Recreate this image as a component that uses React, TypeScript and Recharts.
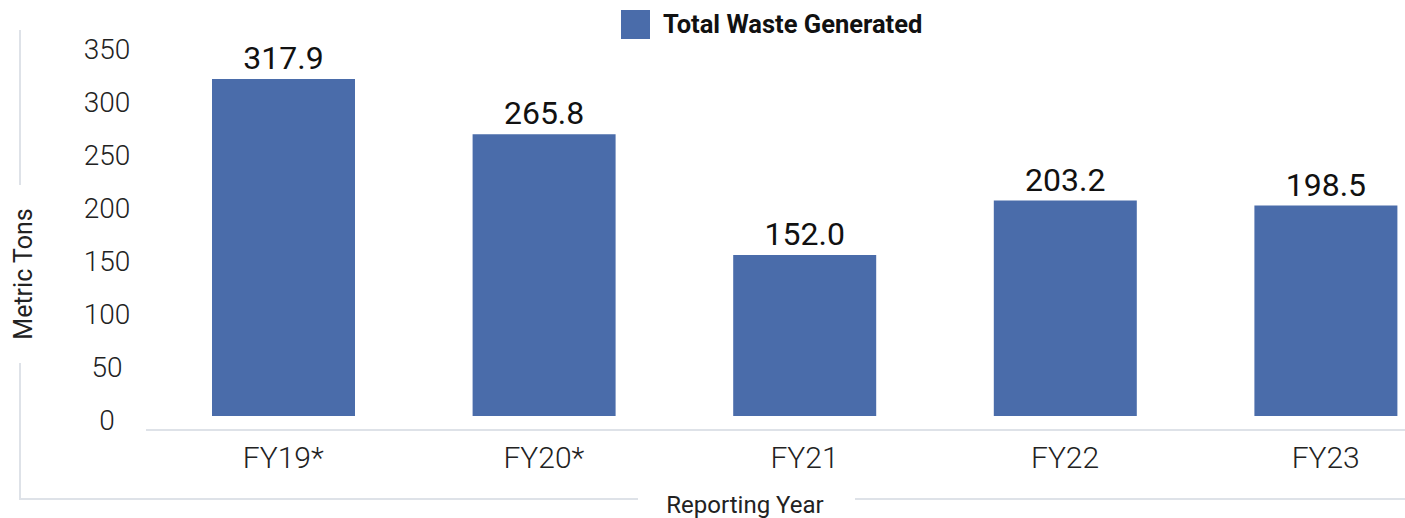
import { Bar, BarChart, LabelList, Legend, XAxis, YAxis } from "recharts";

const categories = ["FY19*", "FY20*", "FY21", "FY22", "FY23"];
const totalWaste = [317.9, 265.8, 152.0, 203.2, 198.5];
const yTicks = [0, 50, 100, 150, 200, 250, 300, 350];
const seriesName = "Total Waste Generated";
const yTitle = "Metric Tons";
const xTitle = "Reporting Year";

const data = categories.map((year, i) => ({ year, waste: totalWaste[i] }));

const FONT = "Roboto, 'Noto Sans', sans-serif";
const BAR = "#4A6CAA";
const FRAME = "#DEE2E8";

function YTick(props: any) {
  const { y, payload } = props;
  return (
    <text
      x={107}
      y={y + 4}
      dy="0.36em"
      textAnchor="middle"
      fontFamily={FONT}
      fontWeight={300}
      fontSize={28}
      fill="#222"
    >
      {payload.value}
    </text>
  );
}

function XTick(props: any) {
  const { x, y, payload } = props;
  return (
    <text
      x={x}
      y={y}
      dy={30}
      textAnchor="middle"
      fontFamily={FONT}
      fontWeight={300}
      fontSize={30}
      fill="#222"
    >
      {payload.value}
    </text>
  );
}

// axis titles sit in gaps of a light bracket frame
function YTitle() {
  return (
    <g>
      <line x1={20} y1={30} x2={20} y2={185} stroke={FRAME} strokeWidth={2} />
      <line x1={20} y1={363} x2={20} y2={500} stroke={FRAME} strokeWidth={2} />
      <text
        x={32}
        y={274}
        transform="rotate(-90, 32, 274)"
        textAnchor="middle"
        fontFamily={FONT}
        fontSize={25}
        fill="#222"
      >
        {yTitle}
      </text>
    </g>
  );
}

function XTitle() {
  return (
    <g>
      <line x1={19} y1={499} x2={638} y2={499} stroke={FRAME} strokeWidth={2} />
      <line x1={855} y1={499} x2={1456} y2={499} stroke={FRAME} strokeWidth={2} />
      <text
        x={745}
        y={513}
        textAnchor="middle"
        fontFamily={FONT}
        fontSize={24}
        fill="#222"
      >
        {xTitle}
      </text>
    </g>
  );
}

function LegendBox(props: any) {
  const item = props.payload?.[0];
  return (
    <div style={{ display: "flex", alignItems: "center", fontFamily: FONT }}>
      <span
        style={{
          width: 29,
          height: 29,
          background: item?.color ?? BAR,
          display: "inline-block",
          marginRight: 13,
        }}
      />
      <span style={{ fontSize: 25.5, fontWeight: 700, color: "#111" }}>{seriesName}</span>
    </div>
  );
}

export default function App() {
  return (
    <div
      style={{
        position: "absolute",
        left: 0,
        top: 0,
        width: 1405,
        height: 518,
        overflow: "hidden",
        background: "#fff",
      }}
    >
      <BarChart
        width={1456}
        height={518}
        data={data}
        margin={{ top: 45, right: 0, bottom: 0, left: 0 }}
      >
        <XAxis
          dataKey="year"
          height={88}
          padding={{ left: 7, right: 0 }}
          tickLine={false}
          axisLine={{ stroke: FRAME, strokeWidth: 2 }}
          tick={<XTick />}
          label={<XTitle />}
        />
        <YAxis
          width={146}
          type="number"
          domain={[-13.2, 350]}
          ticks={yTicks}
          axisLine={false}
          tickLine={false}
          tick={<YTick />}
          label={<YTitle />}
        />
        <Legend
          layout="horizontal"
          verticalAlign="middle"
          align="center"
          wrapperStyle={{ top: 9, left: 621, width: "auto" }}
          content={<LegendBox />}
        />
        <Bar
          dataKey="waste"
          name={seriesName}
          fill={BAR}
          barSize={143}
          isAnimationActive={false}
        >
          <LabelList
            dataKey="waste"
            position="top"
            offset={10}
            formatter={(v: any) => Number(v).toFixed(1)}
            fontFamily={FONT}
            fontSize={32}
            fill="#111"
          />
        </Bar>
      </BarChart>
    </div>
  );
}
